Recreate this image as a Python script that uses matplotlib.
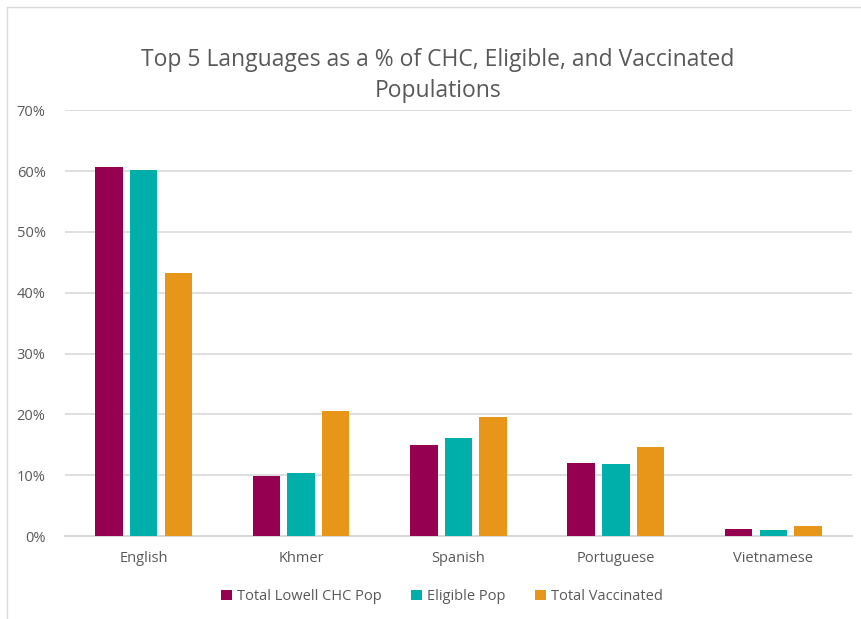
import matplotlib.pyplot as plt
import numpy as np
from matplotlib.patches import Rectangle
from matplotlib.ticker import PercentFormatter

languages = ['English', 'Khmer', 'Spanish', 'Portuguese', 'Vietnamese']
series_names = ['Total Lowell CHC Pop', 'Eligible Pop', 'Total Vaccinated']
chc_pop = [60.6, 9.95, 14.9, 12.0, 1.1]
eligible_pop = [60.1, 10.4, 16.1, 11.8, 1.0]
vaccinated = [43.2, 20.5, 19.6, 14.6, 1.6]
colors = ['#960051', '#00AFAA', '#E8961A']

plt.rcParams['font.family'] = ['Open Sans', 'DejaVu Sans']
text_color = '#595959'
grid_color = '#D9D9D9'

# create a figure and its axes
fig = plt.figure(figsize=(8.62, 6.19), dpi=100)
axs = fig.add_axes([0.0754, 0.134, 0.9130, 0.688])

# plot the data
x = np.arange(len(languages))
width = 0.175
step = 0.22
for i, (vals, name) in enumerate(zip([chc_pop, eligible_pop, vaccinated], series_names)):
    axs.bar(x + (i - 1) * step, vals, width, color=colors[i], label=name, zorder=3)

axs.set_xlim(-0.5, len(languages) - 0.5)
axs.set_ylim(0, 70)
axs.set_yticks(np.arange(0, 71, 10))
axs.yaxis.set_major_formatter(PercentFormatter(decimals=0))
axs.set_xticks(x)
axs.set_xticklabels(languages)

axs.grid(axis='y', color=grid_color, linewidth=1.2, zorder=0)
for side in ['top', 'right', 'left']:
    axs.spines[side].set_visible(False)
axs.spines['bottom'].set_color(grid_color)
axs.spines['bottom'].set_linewidth(1.5)
axs.tick_params(axis='both', length=0, labelsize=10.5, colors=text_color)
axs.tick_params(axis='y', pad=14)
axs.tick_params(axis='x', pad=11)

fig.suptitle('Top 5 Languages as a % of CHC, Eligible, and Vaccinated\nPopulations',
             x=0.508, y=0.922, fontsize=16.5, color=text_color, linespacing=1.4)

# legend below the plot
leg = fig.legend(loc='center', bbox_to_anchor=(0.513, 0.036), ncol=3, frameon=False,
                 fontsize=10.5, handlelength=0.75, handleheight=0.75,
                 handletextpad=0.35, columnspacing=2.0)
for t in leg.get_texts():
    t.set_color(text_color)

# chart border
fig.patches.append(Rectangle((7 / 862, -0.1), 1.2, 1.1 - 7 / 619, transform=fig.transFigure,
                             fill=False, edgecolor=grid_color, linewidth=1.0))

plt.savefig('out.png', dpi=100, facecolor='w')
plt.close()
